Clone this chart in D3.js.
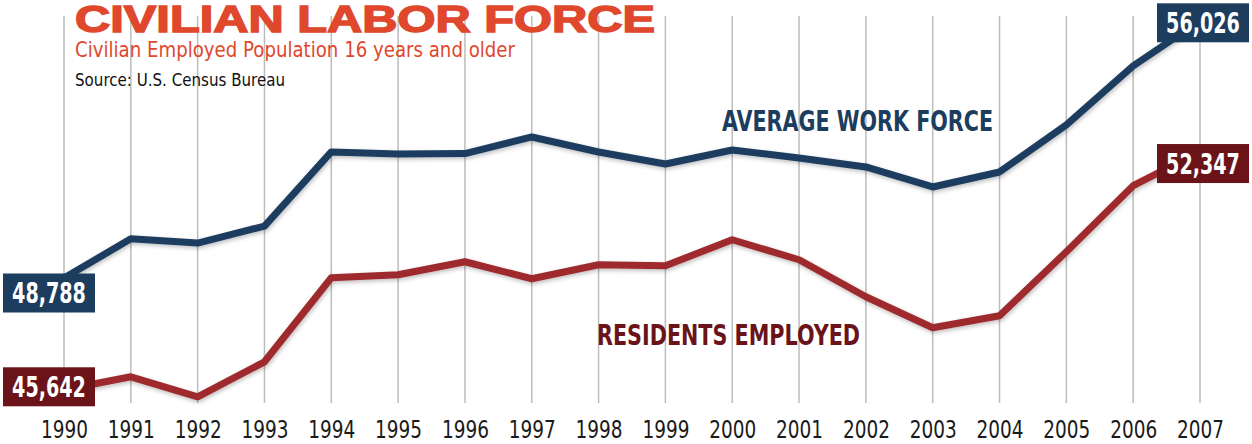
<!DOCTYPE html>
<html lang="en">
<head>
<meta charset="UTF-8">
<title>Civilian Labor Force</title>
<script src="https://cdn.jsdelivr.net/npm/d3@7"></script>
<style>
  body { margin: 0; background: #fff; }
  svg { display: block; }
  .narrow { font-family: "Liberation Sans Narrow", "DejaVu Sans Condensed", "Roboto", sans-serif; font-stretch: condensed; }
</style>
</head>
<body>
<script>
// data
var years = [1990, 1991, 1992, 1993, 1994, 1995, 1996, 1997, 1998, 1999,
             2000, 2001, 2002, 2003, 2004, 2005, 2006, 2007];
var workForce = [48788, 49890, 49770, 50250, 52335, 52280, 52290, 52757, 52335, 51997,
                 52391, 52166, 51913, 51350, 51772, 53095, 54756, 56026];
var employed = [45642, 46008, 45445, 46430, 48795, 48879, 49245, 48767, 49161, 49133,
                49865, 49302, 48260, 47387, 47725, 49527, 51385, 52347];

var width = 1252, height = 444;
var blue = "#1d3d5e", red = "#9e2a2f", redBox = "#6a1419", orange = "#e0482e";

var svg = d3.select("body").append("svg")
    .attr("width", width).attr("height", height);

// soft shadow under the lines
var defs = svg.append("defs");
var f = defs.append("filter").attr("id", "shadow")
    .attr("x", "-5%").attr("y", "-20%").attr("width", "110%").attr("height", "140%");
f.append("feDropShadow").attr("dx", 1).attr("dy", 2).attr("stdDeviation", 2)
    .attr("flood-color", "#000").attr("flood-opacity", 0.25);

var x = d3.scaleLinear().domain([1990, 2007]).range([64, 1200]);
var y = d3.scaleLinear().domain([45000, 57000]).range([412.6, -13.8]);

// vertical grid
svg.append("g").selectAll("line")
    .data(years)
    .enter().append("line")
    .attr("x1", function(d) { return x(d); })
    .attr("x2", function(d) { return x(d); })
    .attr("y1", 16).attr("y2", 403)
    .attr("stroke", "#bdbdbd").attr("stroke-width", 1.5);

// year labels via axis
var axis = d3.axisBottom(x).tickValues(years).tickFormat(d3.format("d")).tickSize(0);
var ax = svg.append("g").attr("transform", "translate(0,416)").call(axis);
ax.select(".domain").remove();
ax.selectAll("text")
    .attr("class", "narrow")
    .attr("font-size", 25)
    .attr("fill", "#1a1a1a")
    .attr("dy", 0)
    .attr("y", 22)
    .attr("textLength", 47).attr("lengthAdjust", "spacingAndGlyphs");

// title block
svg.append("text")
    .attr("x", 75).attr("y", 32)
    .attr("font-family", "Liberation Sans, Arial, sans-serif")
    .attr("font-weight", 900)
    .attr("font-size", 36)
    .attr("fill", orange).attr("stroke", orange).attr("stroke-width", 1.4)
    .attr("textLength", 580).attr("lengthAdjust", "spacingAndGlyphs")
    .text("CIVILIAN LABOR FORCE");
svg.append("text")
    .attr("class", "narrow")
    .attr("x", 75).attr("y", 57)
    .attr("font-size", 21)
    .attr("fill", orange)
    .attr("textLength", 440).attr("lengthAdjust", "spacingAndGlyphs")
    .text("Civilian Employed Population 16 years and older");
svg.append("text")
    .attr("class", "narrow")
    .attr("x", 75).attr("y", 86)
    .attr("font-size", 18)
    .attr("fill", "#111")
    .attr("textLength", 210).attr("lengthAdjust", "spacingAndGlyphs")
    .text("Source: U.S. Census Bureau");

// lines
var line = d3.line()
    .x(function(d, i) { return x(years[i]); })
    .y(function(d) { return y(d); });

svg.append("path").datum(employed)
    .attr("d", line)
    .attr("fill", "none").attr("stroke", red).attr("stroke-width", 7)
    .attr("stroke-linejoin", "round")
    .attr("filter", "url(#shadow)");
svg.append("path").datum(workForce)
    .attr("d", line)
    .attr("fill", "none").attr("stroke", blue).attr("stroke-width", 7)
    .attr("stroke-linejoin", "round")
    .attr("filter", "url(#shadow)");

// series names
svg.append("text")
    .attr("class", "narrow")
    .attr("x", 722).attr("y", 131)
    .attr("font-size", 29).attr("font-weight", "bold")
    .attr("fill", blue)
    .attr("textLength", 271).attr("lengthAdjust", "spacingAndGlyphs")
    .text("AVERAGE WORK FORCE");
svg.append("text")
    .attr("class", "narrow")
    .attr("x", 597).attr("y", 345)
    .attr("font-size", 29).attr("font-weight", "bold")
    .attr("fill", redBox)
    .attr("textLength", 263).attr("lengthAdjust", "spacingAndGlyphs")
    .text("RESIDENTS EMPLOYED");

// value boxes at the ends
var fmt = d3.format(",");
var last = years.length - 1;
var boxes = [
  { v: workForce[0], cx: x(years[0]) - 61, cy: y(workForce[0]) + 15, fill: blue },
  { v: employed[0], cx: x(years[0]) - 61, cy: y(employed[0]) - 3, fill: redBox },
  { v: workForce[last], cx: x(years[last]) - 43, cy: y(workForce[last]) + 2, fill: blue },
  { v: employed[last], cx: x(years[last]) - 43, cy: y(employed[last]) + 12, fill: redBox }
];
var bw = 92, bh = 39;
var bg = svg.selectAll("g.box").data(boxes).enter().append("g").attr("class", "box");
bg.append("rect")
    .attr("x", function(d) { return d.cx; })
    .attr("y", function(d) { return d.cy - bh / 2; })
    .attr("width", bw).attr("height", bh)
    .attr("fill", function(d) { return d.fill; });
// squeeze the numbers horizontally so they fit the box
bg.append("text")
    .attr("class", "narrow")
    .attr("transform", function(d) {
      return "translate(" + (d.cx + bw / 2) + "," + (d.cy + 10) + ") scale(0.76,1)";
    })
    .attr("text-anchor", "middle")
    .attr("font-size", 28).attr("font-weight", "bold")
    .attr("fill", "#fff")
    .text(function(d) { return fmt(d.v); });
</script>
</body>
</html>
